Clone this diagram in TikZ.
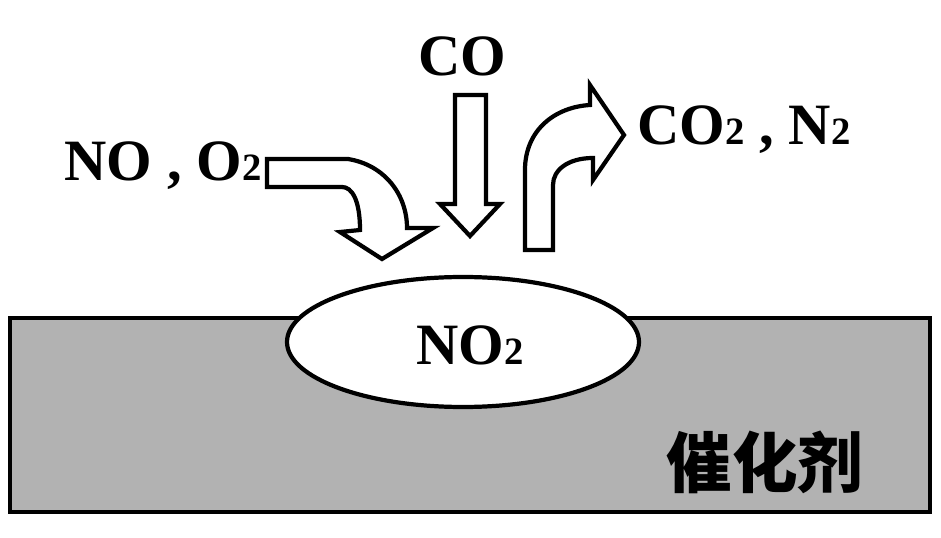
\documentclass[tikz,border=0pt]{standalone}
\usepackage{fontspec}
\setmainfont{Liberation Serif}
\newfontfamily\cjk{Noto Sans CJK SC}
\newcommand{\sub}[1]{{\fontsize{33}{33}\selectfont #1}}
\tikzset{
  outl/.style={line width=3.6pt, line join=miter},
  lbl/.style={font=\fontsize{50}{50}\selectfont\bfseries, inner sep=0pt}
}
\begin{document}
\begin{tikzpicture}[x=0.03cm, y=-0.03cm]
\useasboundingbox (0,0) rectangle (941,538);

% catalyst block
\draw [outl, fill=gray!60] (10,318) rectangle (930,512);
\node [font=\cjk\fontsize{56}{56}\selectfont\bfseries, inner sep=0pt] (cat) at (765,462) {催化剂};

% adsorbed NO2
\draw [outl, fill=white] (463,342) ellipse (176 and 65);
\node [lbl] (no2) at (470,345) {NO\sub{2}};

% labels
\node [lbl] (co) at (462,56) {CO};
\node [lbl] (in) at (163,166) {NO , O\sub{2}};
\node [lbl] (out) at (744,130) {CO\sub{2} , N\sub{2}};

% bent arrow NO, O2 -> surface
\draw [outl, fill=white] (267,159) -- (348,159)
  .. controls (385,165) and (407,195) .. (407,228)
  -- (433,228) -- (382,259) -- (340,232) -- (360,230)
  .. controls (360,200) and (352,187) .. (342,187)
  -- (267,187) -- cycle;

% straight arrow CO -> surface
\draw [outl, fill=white] (455,95) -- (486,95) -- (486,204) -- (500,204)
  -- (470,236) -- (440,204) -- (455,204) -- cycle;

% bent arrow surface -> CO2, N2
\draw [outl, fill=white] (525,250) -- (525,170)
  .. controls (525,130) and (555,107) .. (590,105)
  -- (590,85) -- (624,135) -- (593,180) -- (593,158)
  .. controls (568,158) and (553,170) .. (553,185)
  -- (553,250) -- cycle;

\end{tikzpicture}
\end{document}
